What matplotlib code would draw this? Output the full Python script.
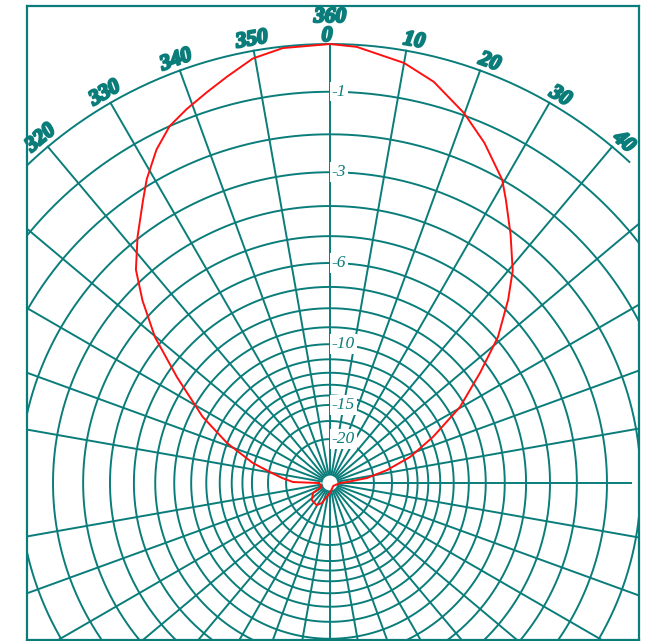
import numpy as np
import matplotlib.pyplot as plt
from matplotlib.patches import Circle
import matplotlib.patheffects as pe

TEAL = '#0a7d7a'
RED = '#ff1010'

# Radiation pattern: bearing in degrees (clockwise from the top) and level in dB
pattern_deg = [-90, -88.5, -84, -79.6, -75.4, -68.8, -62.5, -55.3, -50.2, -45.8,
               -42.3, -38, -33.5, -31.1, -27.5, -24.2, -21.0, -17.5, -14.2, -10.3,
               -6.2, 0, 3.5, 10.0, 14.5, 19.9, 24.4, 29.6, 31.9, 36,
               40.7, 44.2, 49.0, 53.7, 59.7, 65.9, 72.0, 77.2, 82.3, 86.6,
               90, 130, 180, 202.5, 211, 227, 239.5, 246, 270]
pattern_db = [-32, -21.5, -19.2, -17.1, -14.8, -12.0, -9.7, -7.45, -5.7, -4.5,
              -3.65, -2.95, -2.25, -1.85, -1.35, -1.0, -0.8, -0.6, -0.4, -0.15,
              -0.03, 0.0, -0.04, -0.25, -0.5, -0.95, -1.4, -2.0, -2.4, -3.1,
              -3.9, -4.7, -5.9, -7.45, -9.3, -11.8, -14.35, -17.5, -21.4, -28,
              -32.8, -40, -33, -26.1, -24.6, -24.9, -27, -33.6, -32]

# Grid rings (dB) and which of them carry a label
ring_db = [-1, -2, -3, -4, -5, -6, -7, -8, -9, -10, -11, -12, -13, -14, -15, -17, -20]
ring_labels = [1, 3, 6, 10, 15, 20]

# Bearing labels round the outer ring
bearing_labels = [320, 330, 340, 350, 10, 20, 30, 40]


def db_to_r(db):
    # field-strength scale: radius is the linear amplitude
    return 10 ** (np.asarray(db) / 20.0)


def to_xy(deg, r):
    t = np.radians(deg)
    return r * np.sin(t), r * np.cos(t)


fig = plt.figure(figsize=(6.48, 6.41), dpi=100)
ax = fig.add_axes([27 / 648, 1 / 641, 612 / 648, 634 / 641])
ax.set_xlim(-0.6902, 0.7039)
ax.set_ylim(-0.3576, 1.0866)
ax.set_xticks([])
ax.set_yticks([])
for sp in ax.spines.values():
    sp.set_color(TEAL)
    sp.set_linewidth(1.6)

lw = 1.4

# concentric rings
full = np.linspace(0, 360, 721)
for db in ring_db:
    x, y = to_xy(full, db_to_r(db))
    ax.plot(x, y, color=TEAL, lw=lw, zorder=2)

# outer 0 dB arc
arc = np.linspace(-44, 43, 200)
x, y = to_xy(arc, 1.0)
ax.plot(x, y, color=TEAL, lw=lw, zorder=2)

# radial lines every 10 degrees
for ang in range(0, 360, 10):
    if ang == 270:
        continue
    if ang <= 40 or ang >= 320:
        r_end = 1.0
    elif ang == 90:
        r_end = 0.686
    else:
        r_end = 1.6
    x, y = to_xy(np.array([ang, ang]), np.array([0.0, r_end]))
    ax.plot(x, y, color=TEAL, lw=lw, zorder=2)

ax.add_patch(Circle((0, 0), 0.017, facecolor='white', edgecolor='none', zorder=3))

# ring labels along the 0 degree line
for n in ring_labels:
    ax.text(0.004, db_to_r(-n), f'-{n}', color=TEAL, fontsize=12.5,
            family='Liberation Serif', style='italic', ha='left', va='center',
            zorder=5, bbox=dict(boxstyle='square,pad=0.1', fc='white', ec='none'))

# bearing labels
px = 1 / 439.0
thick = [pe.withStroke(linewidth=1.6, foreground=TEAL)]
for b in bearing_labels:
    th = b if b < 180 else b - 360
    r = 1 + 11 * px
    x, y = to_xy(th, r)
    if b < 100:
        shift = 6 * px
        x += shift * np.cos(np.radians(th))
        y -= shift * np.sin(np.radians(th))
    ax.text(x, y, str(b), color=TEAL, fontsize=15.5, family='Liberation Serif',
            style='italic', weight='bold', rotation=-th, ha='center', va='center',
            rotation_mode='anchor', path_effects=thick, zorder=5)
ax.text(0, 1 + 27 * px, '360', color=TEAL, fontsize=15.5, family='Liberation Serif',
        style='italic', weight='bold', ha='center', va='center', path_effects=thick, zorder=5)
ax.text(-3 * px, 1 + 8 * px, '0', color=TEAL, fontsize=15.5, family='Liberation Serif',
        style='italic', weight='bold', ha='center', va='center', path_effects=thick, zorder=5)

# measured pattern
px_, py_ = to_xy(np.array(pattern_deg), db_to_r(pattern_db))
ax.plot(px_, py_, color=RED, lw=1.4, zorder=4)

fig.savefig('out.png', dpi=100)
